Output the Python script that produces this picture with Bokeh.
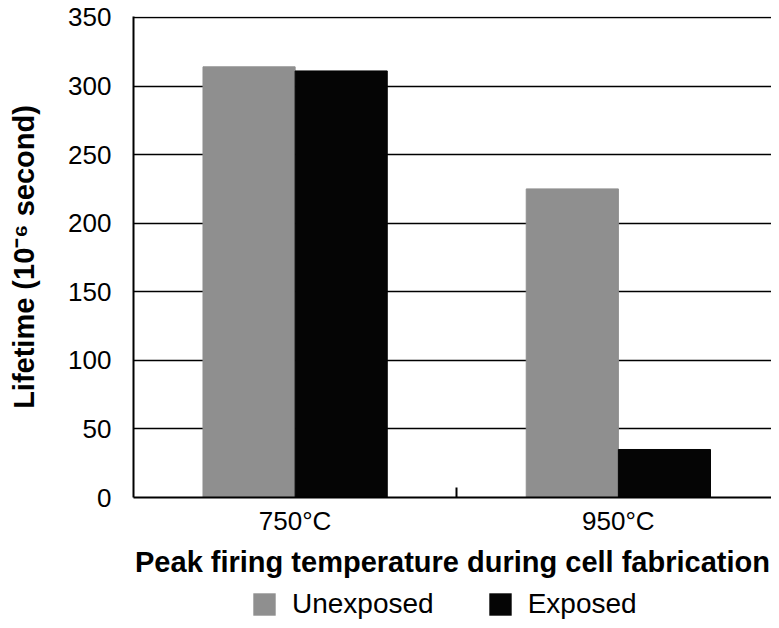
from bokeh.plotting import figure
from bokeh.layouts import column
from bokeh.models import (Range1d, FixedTicker, CustomJSTickFormatter, Legend,
                          LegendItem, ColumnDataSource)
from bokeh.embed import file_html
from bokeh.resources import INLINE
import numpy as np

# ---- data ----
categories = ["750°C", "950°C"]
unexposed = [314, 225]
exposed = [311, 35]
series_names = ["Unexposed", "Exposed"]
y_ticks = [0, 50, 100, 150, 200, 250, 300, 350]

GREY = "#8f8f8f"
BLACK = "#050505"
FONT = "Liberation Sans"

p = figure(width=771, height=582, output_backend="svg", toolbar_location=None,
           x_range=Range1d(0, 1.9737), y_range=Range1d(0, 350.7),
           min_border_left=133, min_border_right=0, min_border_top=16,
           min_border_bottom=85)
p.outline_line_color = None
p.background_fill_color = "white"

centers = np.arange(len(categories)) + 0.5
bw = 0.285
src_u = ColumnDataSource(dict(x=centers - bw / 2, top=unexposed))
src_e = ColumnDataSource(dict(x=centers + bw / 2, top=exposed))
r1 = p.vbar(x="x", top="top", width=bw, source=src_u, fill_color=GREY, line_color=GREY)
r2 = p.vbar(x="x", top="top", width=bw, source=src_e, fill_color=BLACK, line_color=BLACK)

# grid
p.xgrid.visible = False
p.ygrid.ticker = FixedTicker(ticks=y_ticks)
p.ygrid.grid_line_color = "black"
p.ygrid.grid_line_width = 1.5
p.ygrid.level = "underlay"

# y axis
ya = p.yaxis[0]
ya.ticker = FixedTicker(ticks=y_ticks)
ya.major_tick_line_color = None
ya.minor_tick_line_color = None
ya.axis_line_width = 2
ya.axis_line_color = "black"
ya.major_label_text_font = FONT
ya.major_label_text_font_size = "26px"
ya.major_label_text_color = "black"
ya.major_label_standoff = 16
ya.axis_label = "Lifetime (10⁻⁶ second)"
ya.axis_label_text_font = FONT
ya.axis_label_text_font_size = "29px"
ya.axis_label_text_font_style = "bold"
ya.axis_label_text_color = "black"
ya.axis_label_standoff = 25

# x axis
xa = p.xaxis[0]
xa.ticker = FixedTicker(ticks=list(centers), minor_ticks=[1.0])
xa.formatter = CustomJSTickFormatter(args=dict(cats=categories),
                                     code="return cats[Math.floor(tick)] || '';")
xa.major_tick_line_color = None
xa.minor_tick_in = 10
xa.minor_tick_out = 0
xa.minor_tick_line_width = 2
xa.minor_tick_line_color = "black"
xa.axis_line_width = 2
xa.axis_line_color = "black"
xa.major_label_text_font = FONT
xa.major_label_text_font_size = "26px"
xa.major_label_text_color = "black"
xa.major_label_standoff = 2
xa.axis_label = "Peak firing temperature during cell fabrication"
xa.axis_label_text_font = FONT
xa.axis_label_text_font_size = "29px"
xa.axis_label_text_font_style = "bold"
xa.axis_label_text_color = "black"
xa.axis_label_standoff = 7

# ---- legend strip (same data, drawn far outside its own visible range) ----
lf = figure(width=771, height=38, output_backend="svg", toolbar_location=None,
            x_range=Range1d(0, 2), y_range=Range1d(1000, 1001), min_border=0)
lf.axis.visible = False
lf.grid.visible = False
lf.outline_line_color = None
lf.background_fill_alpha = 0
lf.border_fill_alpha = 0
l1 = lf.vbar(x="x", top="top", width=bw, source=src_u, fill_color=GREY, line_color=None)
l2 = lf.vbar(x="x", top="top", width=bw, source=src_e, fill_color=BLACK, line_color=None)
legend = Legend(items=[LegendItem(label=series_names[0], renderers=[l1]),
                       LegendItem(label=series_names[1], renderers=[l2])],
                orientation="horizontal", location=(117, 0),
                glyph_width=28, glyph_height=28, label_standoff=14, spacing=52,
                label_text_font=FONT, label_text_font_size="28px",
                label_text_color="black",
                border_line_color=None, background_fill_alpha=0,
                margin=0, padding=0)
lf.add_layout(legend, "center")

open("out.html", "w").write(file_html(column(p, lf), INLINE))
